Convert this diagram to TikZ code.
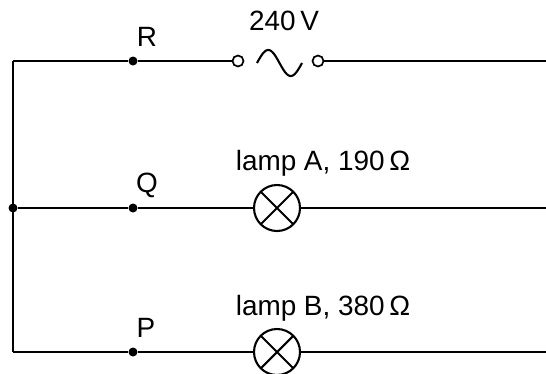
\documentclass[tikz,border=0pt]{standalone}
\usepackage{fontspec}
\setmainfont{Liberation Sans}
\tikzset{
    wire/.style={line width=2.1bp},
    junction/.style={circle,fill,inner sep=0pt,minimum size=9bp},
    terminal/.style={circle,draw,fill=white,line width=1.7bp,inner sep=0pt,minimum size=11bp},
    lamp/.style={circle,draw,line width=2.1bp,inner sep=0pt,minimum size=46bp,
        path picture={\draw[line width=2.1bp] (path picture bounding box.north west)--(path picture bounding box.south east)
            (path picture bounding box.north east)--(path picture bounding box.south west);}},
    lbl/.style={font=\fontsize{28}{30}\selectfont,anchor=base,inner sep=0pt}
}

\begin{document}
\begin{tikzpicture}[x=1bp,y=-1bp]
            \useasboundingbox (0,0) rectangle (546,373);

            % top branch with the supply
            \coordinate (topL) at (13,61);
            \node[junction] (R) at (133,61) {};
            \node[terminal] (sL) at (238,61) {};
            \node[terminal] (sR) at (318,61) {};
            \coordinate (topE) at (546,61);
            \node[lbl] (labR) at (147,46) {R};
            \node[lbl] (labV) at (284,30) {240\,V};
            \draw[wire] (topL)--(R)--(sL);
            \draw[wire] (sR)--(topE);
            \draw[wire] plot[domain=0:360,samples=50] ({257+\x/8},{63-13*sin(\x)});

            % middle branch, lamp A
            \node[junction] (mid) at (13,208) {};
            \node[junction] (Q) at (133,208) {};
            \node[lamp] (lampA) at (277,208) {};
            \coordinate (midE) at (546,208);
            \node[lbl] (labQ) at (147,192) {Q};
            \node[lbl] (labA) at (323,170) {lamp A, 190\,Ω};
            \draw[wire] (mid)--(Q)--(lampA);
            \draw[wire] (lampA)--(midE);

            % bottom branch, lamp B
            \coordinate (botL) at (13,352);
            \node[junction] (P) at (133,352) {};
            \node[lamp] (lampB) at (277,352) {};
            \coordinate (botE) at (546,352);
            \node[lbl] (labP) at (146,337) {P};
            \node[lbl] (labB) at (323,315) {lamp B, 380\,Ω};
            \draw[wire] (botL)--(P)--(lampB);
            \draw[wire] (lampB)--(botE);

            \draw[wire] (topL)--(botL);
\end{tikzpicture}
\end{document}
